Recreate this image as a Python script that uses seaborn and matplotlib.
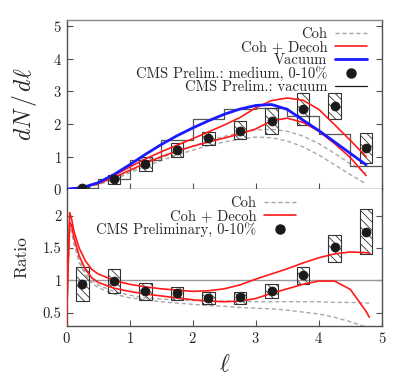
import numpy as np
import matplotlib
matplotlib.use("Agg")
import matplotlib.pyplot as plt
from matplotlib.patches import Rectangle
from matplotlib.lines import Line2D
import seaborn as sns

# --- data ------------------------------------------------------------------
# theory curves, upper panel (dN/dl)
x_th = [0, 0.25, 0.5, 0.75, 1.0, 1.25, 1.5, 1.75, 2.0, 2.25, 2.5, 2.75,
        3.0, 3.25, 3.5, 3.75, 4.0, 4.25, 4.5, 4.75]
vacuum = [0, 0.05, 0.2, 0.45, 0.75, 1.07, 1.37, 1.64, 1.88, 2.1, 2.3, 2.46,
          2.57, 2.6, 2.45, 2.12, 1.8, 1.45, 1.1, 0.75]
decoh_hi = [0, 0.06, 0.2, 0.42, 0.68, 0.93, 1.15, 1.35, 1.55, 1.76, 1.97, 2.2,
            2.5, 2.72, 2.8, 2.73, 2.45, 1.98, 1.5, 1.0]
decoh_lo = [0, 0.05, 0.17, 0.36, 0.58, 0.8, 1.0, 1.17, 1.32, 1.45, 1.57, 1.7,
            1.85, 2.1, 2.18, 2.05, 1.78, 1.4, 0.97, 0.42]
coh_hi = [0, 0.04, 0.15, 0.33, 0.55, 0.76, 0.96, 1.15, 1.32, 1.48, 1.62, 1.74,
          1.82, 1.84, 1.78, 1.63, 1.4, 1.1, 0.78, 0.5]
coh_lo = [0, 0.04, 0.14, 0.3, 0.5, 0.7, 0.88, 1.05, 1.2, 1.34, 1.45, 1.54,
          1.6, 1.58, 1.48, 1.3, 1.05, 0.75, 0.45, 0.16]

# theory curves, ratio panel
x_r = [0, 0.02, 0.05, 0.08, 0.12, 0.2, 0.3, 0.4, 0.5, 0.75, 1.0, 1.25, 1.5,
       1.75, 2.0, 2.25, 2.5, 2.75, 3.0, 3.25, 3.5, 3.75, 4.0, 4.25, 4.5,
       4.75, 4.8]
r_decoh_hi = [0.3, 1.2, 2.05, 1.95, 1.75, 1.5, 1.3, 1.17, 1.1, 1.0, 0.94,
              0.9, 0.87, 0.85, 0.83, 0.84, 0.87, 0.93, 1.02, 1.1, 1.18, 1.27,
              1.35, 1.41, 1.44, 1.43, 1.42]
r_decoh_lo = [0.3, 1.1, 1.9, 1.85, 1.65, 1.38, 1.17, 1.04, 0.97, 0.88, 0.83,
              0.79, 0.76, 0.73, 0.7, 0.68, 0.67, 0.68, 0.72, 0.8, 0.87, 0.94,
              0.99, 0.99, 0.86, 0.52, 0.43]
r_coh_hi = [0.3, 1.05, 1.85, 1.8, 1.6, 1.33, 1.12, 1.0, 0.93, 0.83, 0.77,
            0.73, 0.71, 0.7, 0.69, 0.68, 0.68, 0.68, 0.67, 0.67, 0.67, 0.67,
            0.67, 0.66, 0.66, 0.65, 0.65]
r_coh_lo = [0.3, 1.0, 1.8, 1.75, 1.55, 1.28, 1.08, 0.96, 0.89, 0.79, 0.73,
            0.7, 0.67, 0.65, 0.63, 0.61, 0.6, 0.58, 0.57, 0.56, 0.54, 0.51,
            0.48, 0.43, 0.36, 0.28, 0.27]

# CMS preliminary data
bin_edges = [0, 0.5, 1.0, 1.5, 2.0, 2.5, 3.0, 3.5, 4.0, 4.5, 5.0]
x_pts = [0.25, 0.75, 1.25, 1.75, 2.25, 2.75, 3.25, 3.75, 4.25, 4.75]
cms_vacuum = [0.04, 0.32, 0.89, 1.5, 2.14, 2.45, 2.5, 2.24, 1.68, 0.71]
medium = [0.04, 0.3, 0.76, 1.19, 1.57, 1.8, 2.1, 2.47, 2.55, 1.26]
medium_stat = [0.01, 0.02, 0.03, 0.04, 0.05, 0.05, 0.06, 0.07, 0.07, 0.06]
medium_sys_lo = [0.02, 0.17, 0.55, 0.99, 1.37, 1.53, 1.70, 1.96, 2.17, 0.79]
medium_sys_hi = [0.06, 0.45, 0.99, 1.42, 1.77, 2.09, 2.50, 2.96, 2.96, 1.73]
ratio = [0.94, 0.99, 0.84, 0.8, 0.73, 0.74, 0.84, 1.08, 1.51, 1.75]
ratio_stat = [0.07, 0.03, 0.02, 0.02, 0.02, 0.02, 0.02, 0.03, 0.04, 0.05]
ratio_sys_lo = [0.68, 0.8, 0.7, 0.69, 0.64, 0.64, 0.73, 0.94, 1.29, 1.41]
ratio_sys_hi = [1.2, 1.18, 0.96, 0.9, 0.82, 0.82, 0.94, 1.2, 1.7, 2.1]

# --- style -----------------------------------------------------------------
sns.set_theme(style="ticks")
plt.rcParams["font.family"] = ["cmr10", "DejaVu Serif"]
plt.rcParams["mathtext.fontset"] = "cm"
plt.rcParams["axes.formatter.use_mathtext"] = True
plt.rcParams["axes.unicode_minus"] = False
plt.rcParams["hatch.linewidth"] = 0.6
plt.rcParams["hatch.color"] = "#333333"

RED = "#ff1a1a"
BLUE = "#1a1aff"
GRAY = "#a8a8a8"
SPINE = "#505050"

fig = plt.figure(figsize=(4.16, 3.8), dpi=100)
ax1 = fig.add_axes([0.16, 0.502, 0.758, 0.446])
ax2 = fig.add_axes([0.16, 0.143, 0.758, 0.359])


def sys_boxes(ax, lo, hi):
    for xc, a, b in zip(x_pts, lo, hi):
        ax.add_patch(Rectangle((xc - 0.1, a), 0.2, b - a, facecolor="none",
                               edgecolor="#333333", lw=0.8, hatch="\\\\\\\\",
                               zorder=3))


# upper panel
for y in (coh_hi, coh_lo):
    sns.lineplot(x=x_th, y=y, ax=ax1, color=GRAY, lw=1.0, ls=(0, (3, 2)),
                 estimator=None, sort=False, zorder=2)
for y in (decoh_hi, decoh_lo):
    sns.lineplot(x=x_th, y=y, ax=ax1, color=RED, lw=1.2, estimator=None,
                 sort=False, zorder=4)
sns.lineplot(x=x_th, y=vacuum, ax=ax1, color=BLUE, lw=2.0, estimator=None,
             sort=False, zorder=4)
sns.histplot(x=x_pts, weights=cms_vacuum, bins=bin_edges, element="step",
             fill=False, color="#555555", lw=0.9, ax=ax1, zorder=2)
sys_boxes(ax1, medium_sys_lo, medium_sys_hi)
ax1.errorbar(x_pts, medium, yerr=medium_stat, fmt="none", ecolor="k",
             elinewidth=0.8, zorder=5)
sns.scatterplot(x=x_pts, y=medium, ax=ax1, color="k", s=42, edgecolor="k",
                zorder=6)

ax1.set_xlim(0, 5)
ax1.set_ylim(0, 5.2)
ax1.set_yticks([0, 1, 2, 3, 4, 5])
ax1.set_xticks([0, 1, 2, 3, 4, 5])
ax1.set_xticklabels([])
ax1.set_xlabel("")
ax1.set_ylabel(r"$dN\,/\,d\ell$", fontsize=17, labelpad=10)

h1 = [Line2D([], [], color=GRAY, lw=1.0, ls=(0, (3, 2))),
      Line2D([], [], color=RED, lw=1.2),
      Line2D([], [], color=BLUE, lw=2.0),
      Line2D([], [], color="k", marker="o", ls="none", ms=6.5),
      Line2D([], [], color="k", lw=0.9)]
l1 = ["Coh", "Coh + Decoh", "Vacuum", "CMS Prelim.: medium, 0-10%",
      "CMS Prelim.: vacuum"]
ax1.legend(h1, l1, loc="upper right", bbox_to_anchor=(0.975, 1.0),
           frameon=False, markerfirst=False, fontsize=10.5, handlelength=2.2,
           labelspacing=-0.05, handletextpad=0.5, borderaxespad=0.1)

# ratio panel
ax2.axhline(1.0, color="#999999", lw=1.0, zorder=1)
for y in (r_coh_hi, r_coh_lo):
    sns.lineplot(x=x_r, y=y, ax=ax2, color=GRAY, lw=1.0, ls=(0, (3, 2)),
                 estimator=None, sort=False, zorder=2)
for y in (r_decoh_hi, r_decoh_lo):
    sns.lineplot(x=x_r, y=y, ax=ax2, color=RED, lw=1.2, estimator=None,
                 sort=False, zorder=4)
sys_boxes(ax2, ratio_sys_lo, ratio_sys_hi)
ax2.errorbar(x_pts, ratio, yerr=ratio_stat, fmt="none", ecolor="k",
             elinewidth=0.8, zorder=5)
sns.scatterplot(x=x_pts, y=ratio, ax=ax2, color="k", s=42, edgecolor="k",
                zorder=6)

ax2.set_xlim(0, 5)
ax2.set_ylim(0.3, 2.41)
ax2.set_yticks([0.5, 1, 1.5, 2])
ax2.set_yticklabels(["0.5", "1", "1.5", "2"])
ax2.set_xticks([0, 1, 2, 3, 4, 5])
ax2.set_xlabel(r"$\ell$", fontsize=17, labelpad=6)
ax2.set_ylabel("Ratio", fontsize=12.5, labelpad=10)

h2 = [Line2D([], [], color=GRAY, lw=1.0, ls=(0, (3, 2))),
      Line2D([], [], color=RED, lw=1.2),
      Line2D([], [], color="k", marker="o", ls="none", ms=6.5)]
l2 = ["Coh", "Coh + Decoh", "CMS Preliminary, 0-10%"]
ax2.legend(h2, l2, loc="upper right", bbox_to_anchor=(0.75, 1.0),
           frameon=False, markerfirst=False, fontsize=10.5, handlelength=2.2,
           labelspacing=-0.05, handletextpad=0.5, borderaxespad=0.1)

for ax in (ax1, ax2):
    ax.tick_params(direction="in", left=True, right=True, top=False,
                   bottom=True, length=4, width=0.8, colors=SPINE,
                   labelcolor="#222222", labelsize=10.5)
    for s in ax.spines.values():
        s.set_color(SPINE)
        s.set_linewidth(1.0)
ax1.spines["top"].set_color("#888888")
ax2.spines["top"].set_visible(False)

fig.savefig("out.png", dpi=100)
